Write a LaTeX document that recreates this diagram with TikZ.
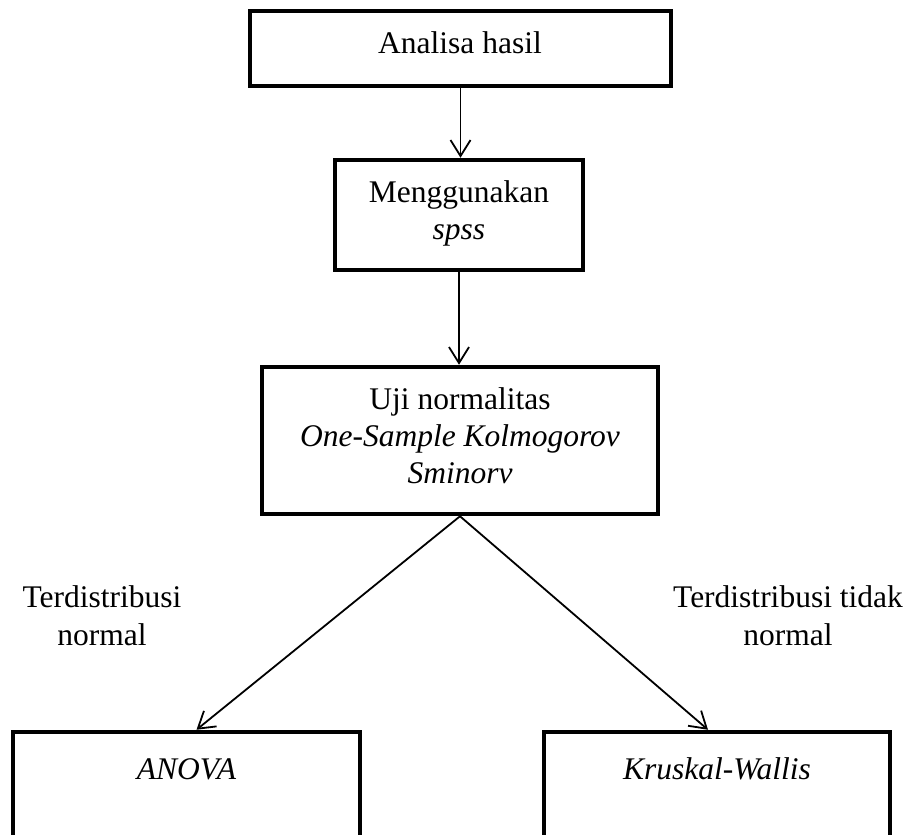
\documentclass[tikz,border=0pt]{standalone}
\usepackage{fontspec}
\setmainfont{Liberation Serif}
\usetikzlibrary{arrows.meta}
\begin{document}
\begin{tikzpicture}[x=1pt,y=-1pt,
  box/.style={draw, line width=4.5pt, rectangle, inner sep=0pt},
  txt/.style={font=\fontsize{31.5}{37}\selectfont, inner sep=0pt, anchor=base},
  conn/.style={line width=1.8pt, -{Straight Barb[length=16pt,width=20pt]}}]
\useasboundingbox (0,0) rectangle (911,835);
% boxes
\node[box, minimum width=421pt, minimum height=75pt] (b1) at (460.5,48.5) {};
\node[box, minimum width=248pt, minimum height=110pt] (b2) at (459,215) {};
\node[box, minimum width=396pt, minimum height=147pt] (b3) at (460,440.5) {};
\node[box, minimum width=347pt, minimum height=105pt] (b4) at (186.5,784.5) {};
\node[box, minimum width=346pt, minimum height=105pt] (b5) at (717,784.5) {};
% texts
\node[txt] (t1) at (460,53) {Analisa hasil};
\node[txt] (t2a) at (459,202) {Menggunakan};
\node[txt] (t2b) at (459,239) {\itshape spss};
\node[txt] (t3a) at (460,409) {Uji normalitas};
\node[txt] (t3b) at (460,446) {\itshape One-Sample Kolmogorov};
\node[txt] (t3c) at (460,483) {\itshape Sminorv};
\node[txt] (t4) at (186.5,779) {\itshape ANOVA};
\node[txt] (t5) at (717,779) {\itshape Kruskal-Wallis};
\node[txt] (l1a) at (102,607) {Terdistribusi};
\node[txt] (l1b) at (102,645) {normal};
\node[txt] (l2a) at (788,607) {Terdistribusi tidak};
\node[txt] (l2b) at (788,645) {normal};
% connectors
\draw[conn] (b1.south) -- (b1.south |- b2.north);
\draw[conn] (b2.south) -- (b2.south |- b3.north);
\draw[conn] (b3.south) -- ([xshift=10pt]b4.north);
\draw[conn] (b3.south) -- ([xshift=-9pt]b5.north);
\end{tikzpicture}
\end{document}
